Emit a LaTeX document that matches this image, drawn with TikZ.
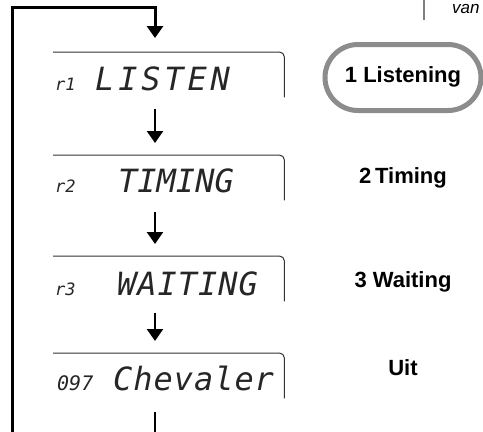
\documentclass[tikz,border=0pt]{standalone}
\usepackage{fontspec}
\setmainfont{Liberation Sans}
\newfontfamily\lcdfont{DejaVu Sans Mono}
\usepackage{tikz}
\usetikzlibrary{arrows.meta,positioning}

\begin{document}
\begin{tikzpicture}[
  x=1pt, y=-1pt,
  >={Triangle[width=16pt,length=12pt]},
  disp/.style={minimum width=231pt, minimum height=45pt, inner sep=0pt, anchor=north west},
  frame/.style={draw=black!80, line width=1pt, rounded corners=5pt},
  lcd/.style={font=\lcdfont\itshape\fontsize{32}{32}\selectfont\addfontfeature{LetterSpace=#1}, text=black!85, anchor=base west, inner sep=0pt},
  lcd/.default=3,
  tag/.style={font=\lcdfont\itshape\fontsize{17}{17}\selectfont, text=black!85, anchor=base west, inner sep=0pt},
  lab/.style={font=\bfseries\fontsize{22}{22}\selectfont, anchor=base, inner sep=0pt},
  flow/.style={->, line width=2.5pt, shorten <=12pt, shorten >=12pt},
  back/.style={->, line width=3pt, shorten >=14pt}
]
\useasboundingbox (0,0) rectangle (483,432);

% displays
\node[disp] (d1) at (53,52)  {};
\node[disp] (d2) at (53,155) {};
\node[disp] (d3) at (53,256) {};
\node[disp] (d4) at (53,353) {};
\draw[frame] (d1.north west) -- (d1.north east) -- (d1.south east);
\draw[frame] (d2.north west) -- (d2.north east) -- (d2.south east);
\draw[frame] (d3.north west) -- (d3.north east) -- (d3.south east);
\draw[frame] (d4.north west) -- (d4.north east) -- (d4.south east);

\node[tag] (t1) at (55,90)  {r1};
\node[lcd=12] (s1) at (95,90)  {LISTEN};
\node[tag] (t2) at (55,192) {r2};
\node[lcd=0] (s2) at (118,192) {TIMING};
\node[tag] (t3) at (55,295) {r3};
\node[lcd] (s3) at (117,295) {WAITING};
\node[tag, font=\lcdfont\itshape\fontsize{20}{20}\selectfont] (t4) at (57,390) {097};
\node[lcd] (s4) at (113,390) {Chevaler};

% labels on the right
\node[draw=black!45, line width=5pt, rounded corners=33pt, minimum width=156pt, minimum height=66pt] (l1) at (403,77.5) {};
\node[lab] (n1) at (403,82)  {1 Listening};
\node[lab] (n2) at (403,183) {2\,Timing};
\node[lab] (n3) at (403,287) {3 Waiting};
\node[lab] (n4) at (403,375) {Uit};
\node[font=\itshape\fontsize{17}{17}\selectfont, anchor=base west, inner sep=0pt] (van) at (452,13) {van};
\coordinate (vt) at (424,0);
\coordinate (vb) at (424,20);
\draw[black!50, line width=1.2pt] (vt) -- (vb);

% flow
\coordinate (col) at (155,0);
\coordinate (lb) at (12,432);
\coordinate (lt) at (12,7);
\coordinate (bot) at (155,432);
\draw[back] (lb) -- (lt) -| (d1.north -| col);
\draw[flow] (d1.south -| col) -- (d2.north -| col);
\draw[flow] (d2.south -| col) -- (d3.north -| col);
\draw[flow] (d3.south -| col) -- (d4.north -| col);
\draw[line width=2.5pt, shorten <=14pt] (d4.south -| col) -- (bot);
\end{tikzpicture}
\end{document}
